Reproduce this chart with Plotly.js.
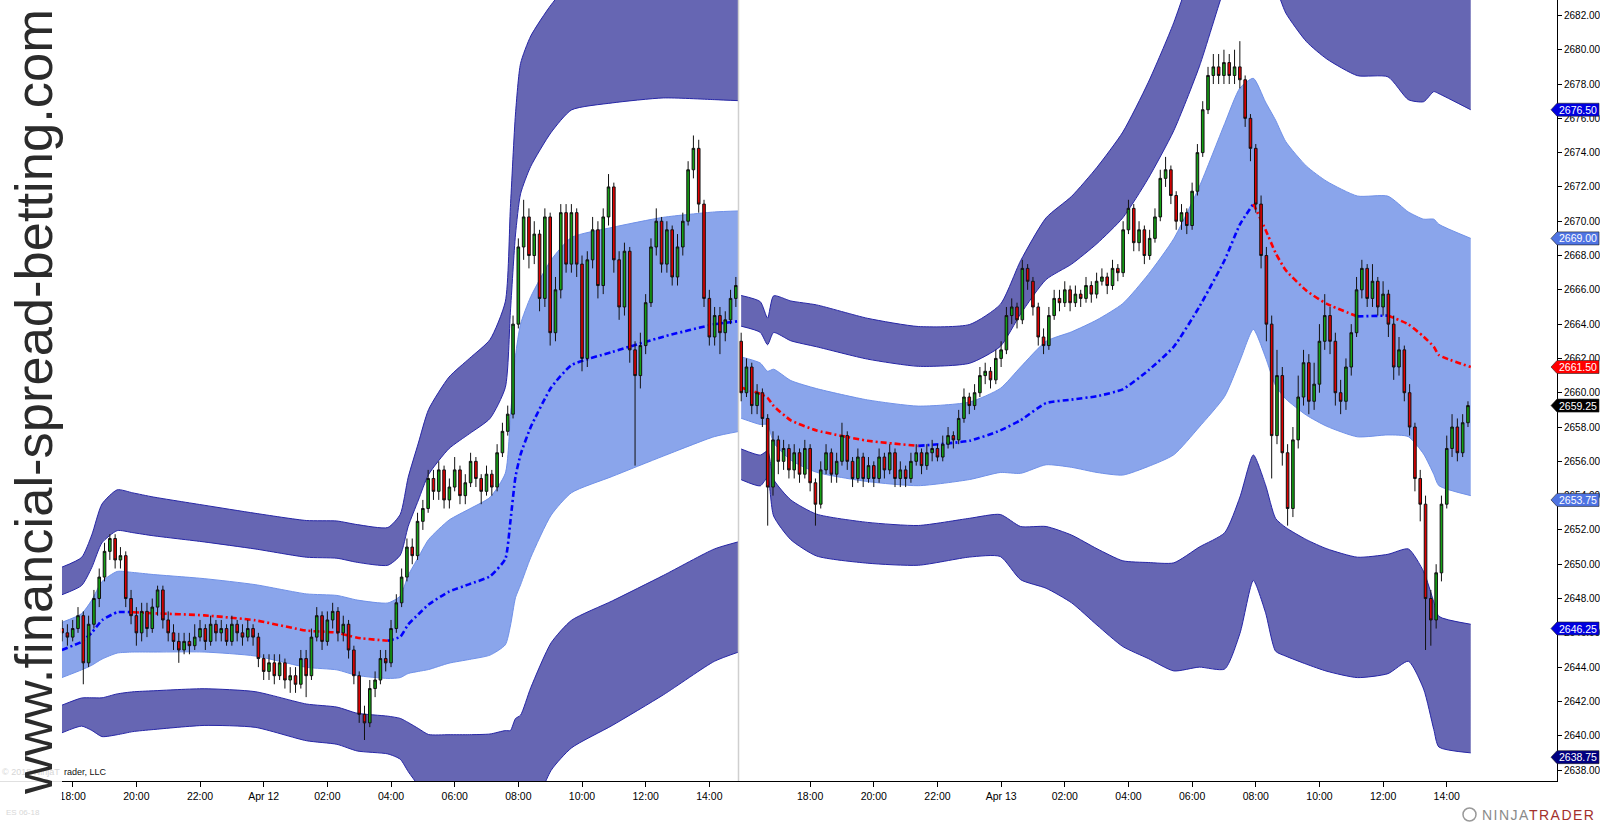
<!DOCTYPE html>
<html><head><meta charset="utf-8">
<script src="https://cdn.plot.ly/plotly-3.0.1.min.js"></script>
<style>html,body{margin:0;padding:0;background:#fff}#chart{width:1600px;height:822px}</style>
</head><body><div id="chart"></div>
<script>
// ---------- DATA (10-minute bars) ----------
const open = [
2646.25,2646,2645.75,2646.25,2647,2644.25,2646.5,2648,2649.25,2650.75,
2651.5,2650.25,2650.5,2648,2647,2646,2647.25,2646.25,2647.5,2648.5,
2646.75,2646,2645.5,2645,2645.5,2645.25,2645.75,2646.25,2645.5,2646.5,
2646,2646.25,2645.5,2646.5,2646,2645.75,2646.25,2645.75,2644.5,2643.75,
2644.25,2643.5,2644.25,2643.25,2643.5,2643,2644.5,2643.5,2645.75,2647,
2645.5,2646.75,2647.25,2646,2646.5,2645,2643.5,2641.25,2640.75,2642.75,
2643.25,2644.5,2644.25,2646.25,2647.75,2649.25,2651,2650.5,2652.5,2653.25,
2655,2654.25,2655.5,2653.75,2654.5,2655.5,2654,2654.75,2656,2655,
2654.25,2655.25,2654.5,2656.5,2657.75,2658.75,2664,2668.5,2670.25,2668,
2669.25,2665.5,2670.25,2663.5,2666,2670.5,2667.5,2670.5,2667.5,2662,
2667.75,2669.5,2666.25,2670.25,2672,2667.75,2665,2668.25,2662.5,2661,
2662.75,2665.25,2668.5,2670,2667.5,2669.5,2666.75,2668.5,2670,2673,
2674.25,2671,2665.5,2663.25,2664.5,2663.5,2664.25,2665.5,
2663,2660,2661.5,2659.25,2660,2658.5,2654.5,2657.25,2656,2656.75,
2655.5,2656.5,2655.25,2656.75,2654.75,2653.5,2655.5,2656.5,2655.25,2656,
2657.5,2656,2655,2656.25,2655,2655.75,2655,2656.25,2655.5,2656.5,
2655,2655.5,2655,2656,2656.5,2655.75,2656.5,2656.75,2656.25,2657,
2657.5,2657.25,2658.5,2659.75,2659.25,2660,2661,2661.25,2660.75,2662,
2662.5,2664.5,2665,2664.25,2667.25,2666.5,2665,2663.25,2662.75,2664.5,
2665.5,2665.25,2666,2665.25,2665.75,2665.5,2666.25,2665.75,2666.5,2666.75,
2666.25,2667.25,2667,2669.5,2670.75,2668.75,2669.5,2668,2669,2670.25,
2672.5,2673,2671.5,2670,2670.5,2669.75,2671.75,2674,2676.5,2678.5,
2679,2678.5,2679.25,2678.5,2679,2678.25,2676,2674.25,2671,2668,
2664,2657.5,2661,2656.5,2653.25,2657.25,2659.75,2661.75,2659.5,2660.5,
2663,2664.5,2663,2660,2659.5,2661.5,2663.5,2666,2667.25,2665.5,
2666.5,2665,2665.75,2664,2661.5,2662.5,2660,2658,2655,2653.5,
2648,2646.75,2649.5,2653.5,2656.75,2658,2656.5,2658.25];
const high = [
2646.75,2646.5,2646.75,2647.5,2647.25,2647,2648.5,2649.75,2651.25,2651.75,
2651.75,2651,2650.75,2648.5,2647.5,2647.75,2647.75,2648,2648.75,2648.75,
2647.25,2646.5,2646,2646,2646,2646.5,2646.75,2646.5,2647,2646.75,
2646.75,2646.5,2647,2646.75,2646.5,2646.75,2646.5,2646,2644.75,2644.75,
2644.75,2644.75,2644.5,2644,2644,2645,2645,2646.25,2647.5,2647.25,
2647.25,2647.75,2647.5,2647,2646.75,2645.25,2643.75,2641.75,2643.25,2643.75,
2645,2645,2646.75,2648.25,2649.75,2651.5,2651.5,2653,2653.75,2655.5,
2655.5,2656,2655.75,2655,2656.25,2655.75,2655.25,2656.5,2656.25,2655.25,
2655.75,2655.5,2657,2658.25,2659.25,2664.5,2669,2671.25,2670.75,2670,
2669.5,2670.75,2670.5,2666.75,2671,2671,2671,2670.75,2668,2668.25,
2670.25,2670,2670.75,2672.75,2672.25,2668.25,2668.75,2668.5,2663,2663.5,
2665.75,2669,2670.75,2670.25,2670,2669.75,2669.25,2670.5,2673.5,2675,
2674.75,2671.25,2666,2665,2665,2664.75,2666,2666.75,
2663.5,2662,2661.75,2660.5,2660.25,2658.75,2657.75,2657.5,2657.25,2657,
2657,2656.75,2657.25,2657,2655,2656,2657,2656.75,2656.5,2658.25,
2657.75,2656.25,2656.75,2656.5,2656.25,2656,2656.75,2656.5,2657,2656.75,
2656,2655.75,2656.5,2657,2656.75,2657,2657.25,2657,2657.5,2658,
2657.75,2659,2660.25,2660,2660.5,2661.5,2661.75,2661.5,2662.5,2663,
2665,2665.5,2665.25,2667.75,2667.5,2666.75,2665.25,2663.75,2665,2666,
2666,2666.5,2666.25,2666.25,2666,2666.75,2666.5,2667,2667.25,2667,
2667.75,2667.5,2670,2671.25,2671,2670,2669.75,2669.5,2670.75,2673,
2673.75,2673.25,2671.75,2671,2670.75,2672.25,2674.5,2677,2679,2679.75,
2679.75,2680,2679.75,2680,2680.5,2678.5,2676.25,2674.5,2671.5,2668.5,
2664.5,2662.5,2661.5,2657,2658,2661,2662.5,2662.25,2661.75,2664,
2665.75,2665,2663.5,2660.75,2662,2664,2666.75,2667.75,2667.5,2667.5,
2666.75,2666.5,2666,2664.5,2663.25,2662.75,2660.5,2658.25,2655.5,2654,
2648.5,2650,2654,2657.5,2658.75,2658.5,2658.75,2659.5];
const low = [
2645.5,2645.25,2645.5,2646,2643,2644,2646.25,2647.5,2649,2650.25,
2649.75,2649.75,2647.5,2646.5,2645.25,2645.5,2645.75,2646,2647,2646.25,
2645.5,2645,2644.25,2644.75,2644.75,2645,2645.5,2645,2645.25,2645.5,
2645.5,2645.25,2645.25,2645.5,2645.25,2645.5,2645.25,2644,2643.25,2643.25,
2643,2643.25,2642.75,2642.5,2642.5,2642.75,2642.25,2643.25,2645.5,2645,
2645.25,2646.25,2645.5,2645.5,2644.5,2643,2640.75,2639.75,2640.5,2642.25,
2643,2643.75,2644,2646,2647.5,2649,2650,2650.25,2652,2653,
2653.75,2653.75,2653.25,2653.25,2654.25,2653.5,2653.5,2654.5,2654.5,2653.5,
2654,2654,2654.25,2656.25,2657.5,2658.5,2663.75,2667.75,2667.25,2667.5,
2664.75,2665,2662.75,2663,2665.5,2667,2667,2666.75,2661.25,2661.5,
2667.25,2665.5,2665.75,2669.75,2667,2664.25,2664.5,2661.75,2655.75,2660.25,
2662.25,2665,2668,2667,2667,2666.25,2666.25,2668,2669.75,2672.5,
2670.5,2665,2662.75,2662.75,2662.25,2663,2664,2665,
2659.5,2659.75,2658.75,2658.75,2658,2652.25,2654,2655.25,2655.5,2655,
2655,2654.75,2655,2654.25,2652.25,2653.25,2655.25,2654.75,2654.75,2655.75,
2655.5,2654.5,2654.75,2654.5,2654.75,2654.5,2654.75,2655,2655.25,2654.5,
2654.5,2654.5,2654.75,2655.75,2655.25,2655.5,2656,2656,2656,2656.75,
2656.75,2657,2658.25,2658.75,2659,2659.75,2660.5,2660.25,2660.5,2661.5,
2662.25,2664,2663.75,2664,2666,2664.5,2662.75,2662.25,2662.5,2664.25,
2664.75,2665,2664.75,2665,2665,2665.25,2665.25,2665.5,2666.25,2665.75,
2666,2666.5,2666.75,2669.25,2668.25,2668.25,2667.5,2667.75,2668.75,2670,
2672,2671,2669.5,2669.5,2669.25,2669.5,2671.5,2673.75,2676.25,2678,
2678,2678,2678,2678,2677.75,2675.5,2673.5,2670.5,2667.25,2663,
2655,2657,2655.75,2652.25,2652.75,2656.75,2659.25,2658.75,2659,2660,
2662.5,2662.25,2659.25,2658.75,2659,2661,2663.25,2665.5,2665,2665,
2664.5,2664.5,2663.25,2660.75,2661,2659.5,2657.5,2654.25,2652.5,2645,
2645.25,2646.25,2649,2653.25,2656.25,2656,2656.25,2658];
const close = [
2646,2645.75,2646.25,2647,2644.25,2646.5,2648,2649.25,2650.75,2651.5,
2650.25,2650.5,2648,2647,2646,2647.25,2646.25,2647.5,2648.5,2646.75,
2646,2645.5,2645,2645.5,2645.25,2645.75,2646.25,2645.5,2646.5,2646,
2646.25,2645.5,2646.5,2646,2645.75,2646.25,2645.75,2644.5,2643.75,2644.25,
2643.5,2644.25,2643.25,2643.5,2643,2644.5,2643.5,2645.75,2647,2645.5,
2646.75,2647.25,2646,2646.5,2645,2643.5,2641.25,2640.75,2642.75,2643.25,
2644.5,2644.25,2646.25,2647.75,2649.25,2651,2650.5,2652.5,2653.25,2655,
2654.25,2655.5,2653.75,2654.5,2655.5,2654,2654.75,2656,2655,2654.25,
2655.25,2654.5,2656.5,2657.75,2658.75,2664,2668.5,2670.25,2668,2669.25,
2665.5,2670.25,2663.5,2666,2670.5,2667.5,2670.5,2667.5,2662,2667.75,
2669.5,2666.25,2670.25,2672,2667.75,2665,2668.25,2662.5,2661,2662.75,
2665.25,2668.5,2670,2667.5,2669.5,2666.75,2668.5,2670,2673,2674.25,
2671,2665.5,2663.25,2664.5,2663.5,2664.25,2665.5,2666.25,
2660,2661.5,2659.25,2660,2658.5,2654.5,2657.25,2656,2656.75,2655.5,
2656.5,2655.25,2656.75,2654.75,2653.5,2655.5,2656.5,2655.25,2656,2657.5,
2656,2655,2656.25,2655,2655.75,2655,2656.25,2655.5,2656.5,2655,
2655.5,2655,2656,2656.5,2655.75,2656.5,2656.75,2656.25,2657,2657.5,
2657.25,2658.5,2659.75,2659.25,2660,2661,2661.25,2660.75,2662,2662.5,
2664.5,2665,2664.25,2667.25,2666.5,2665,2663.25,2662.75,2664.5,2665.5,
2665.25,2666,2665.25,2665.75,2665.5,2666.25,2665.75,2666.5,2666.75,2666.25,
2667.25,2667,2669.5,2670.75,2668.75,2669.5,2668,2669,2670.25,2672.5,
2673,2671.5,2670,2670.5,2669.75,2671.75,2674,2676.5,2678.5,2679,
2678.5,2679.25,2678.5,2679,2678.25,2676,2674.25,2671,2668,2664,
2657.5,2661,2656.5,2653.25,2657.25,2659.75,2661.75,2659.5,2660.5,2663,
2664.5,2663,2660,2659.5,2661.5,2663.5,2666,2667.25,2665.5,2666.5,
2665,2665.75,2664,2661.5,2662.5,2660,2658,2655,2653.5,2648,
2646.75,2649.5,2653.5,2656.75,2658,2656.5,2658.25,2659.25];

// VWAP and standard deviation, sampled along each session (hours on the chart's bar clock)
const sess1Hour = [-0.34,0.28,0.6,0.92,1.4,1.89,2.53,4.13,5.73,7.34,8.3,8.94,9.9,10.29,10.54,10.86,11.18,11.82,12.47,13.11,13.59,13.75,13.91,14.07,14.39,15.03,15.67,16.95,18.56,20.16,20.92];
const sess1Vwap = [2645.0,2645.48,2646.01,2646.73,2647.2,2647.2,2647.14,2647.02,2646.73,2646.13,2646.01,2645.71,2645.54,2645.77,2646.49,2647.08,2647.65,2648.4,2648.84,2649.3,2650.3,2652.5,2655.1,2656.4,2658.0,2660.3,2661.61,2662.38,2663.27,2663.99,2664.17];
const sess1Sd = [1.61,1.64,1.9,2.26,2.38,2.32,2.26,2.14,2.08,2.14,2.17,2.2,2.2,2.38,2.86,3.33,3.79,4.17,4.39,4.6,5.0,6.1,7.05,7.6,7.6,7.44,7.44,7.26,6.96,6.55,6.43];
const sess2Hour = [21.0,21.6,21.83,22.02,22.56,23.37,24.97,26.57,28.18,29.14,29.78,30.58,31.38,32.18,32.99,33.79,34.59,35.39,36.19,36.67,37.09,37.47,37.79,38.11,38.76,39.4,40.36,41.32,41.96,42.44,42.76,42.92,43.92];
const sess2Vwap = [2660.3,2659.94,2659.7,2659.23,2658.39,2657.8,2657.2,2656.9,2657.2,2657.8,2658.4,2659.4,2659.6,2659.8,2660.2,2661.3,2662.68,2665.0,2667.74,2669.82,2671.01,2669.52,2668.15,2667.14,2665.95,2665.18,2664.45,2664.5,2663.99,2663.27,2662.68,2662.2,2661.5];
const sess2Sd = [1.79,1.79,1.55,2.14,2.32,2.44,2.38,2.32,2.26,2.45,3.1,3.6,3.95,4.45,5.0,5.6,6.3,7.0,7.95,7.95,7.32,7.44,7.74,7.5,7.26,7.14,7.02,6.96,6.55,6.85,7.44,7.62,7.5];

// axis labels
const sess1TickText = ['18:00','20:00','22:00','Apr 12','02:00','04:00','06:00','08:00','10:00','12:00','14:00'];
const sess2TickText = ['18:00','20:00','22:00','Apr 13','02:00','04:00','06:00','08:00','10:00','12:00','14:00'];
// right-hand price markers
const markerPrices = [2676.5,2669.0,2661.5,2659.25,2653.75,2646.25,2638.75];
const markerColors = ['#0000e0','#4f74e3','#ff0000','#000000','#4f74e3','#0000e0','#000080'];

// ---------- LAYOUT CONSTANTS ----------
const FIRST_BAR = -1/3, BAR = 1/6;          // bar clock (hours)
const SESSION2_18H = 21 + 13/6;              // 18:00 of session 2 on the bar clock
const XR = [-2.284, 46.63], YR = [2637.36, 2682.9];
const PW = 1557, PH = 781;
const FONT = 'Liberation Sans, Arial, sans-serif';

const barX = close.map((_, i) => FIRST_BAR + i * BAR);

const traces = [];
const base = {type:'scatter', mode:'lines', hoverinfo:'skip', showlegend:false};
const sp = {shape:'spline', smoothing:0.6};
const darkFill = '#6666b3', darkEdge = '#2626a6', lightFill = '#8aa5eb', lightEdge = '#6f90e8';

function addBands(hours, vwap, sd) {
  const band = k => vwap.map((v, i) => v + k * sd[i]);
  traces.push({...base, x:hours, y:band(2),  line:{color:darkEdge, width:1, ...sp}});
  traces.push({...base, x:hours, y:band(3),  fill:'tonexty', fillcolor:darkFill, line:{color:darkEdge, width:1, ...sp}});
  traces.push({...base, x:hours, y:band(-3), line:{color:darkEdge, width:1, ...sp}});
  traces.push({...base, x:hours, y:band(-2), fill:'tonexty', fillcolor:darkFill, line:{color:darkEdge, width:1, ...sp}});
  traces.push({...base, x:hours, y:band(-1), line:{color:lightEdge, width:1, ...sp}});
  traces.push({...base, x:hours, y:band(1),  fill:'tonexty', fillcolor:lightFill, line:{color:lightEdge, width:1, ...sp}});
}
function addVwap(hours, vwap) {
  let start = 0;
  for (let i = 1; i < vwap.length; i++) {
    const dir = vwap[i] >= vwap[i-1] ? 1 : -1;
    const nextDir = i + 1 < vwap.length ? (vwap[i+1] >= vwap[i] ? 1 : -1) : null;
    if (nextDir !== dir) {
      traces.push({...base, x:hours.slice(start, i+1), y:vwap.slice(start, i+1),
        line:{color: dir > 0 ? '#0000ff' : '#ff0000', width:2.6, dash:'6px,3px,2px,3px', shape:'spline', smoothing:0.5}});
      start = i;
    }
  }
}
addBands(sess1Hour, sess1Vwap, sess1Sd);
addBands(sess2Hour, sess2Vwap, sess2Sd);
addVwap(sess1Hour, sess1Vwap);
addVwap(sess2Hour, sess2Vwap);

// candles live on an overlaid (hidden) axis pair so they are painted above the band fills
traces.push({
  type:'candlestick', x:barX, open, high, low, close, hoverinfo:'skip', showlegend:false,
  xaxis:'x2', yaxis:'y2', whiskerwidth:0,
  increasing:{fillcolor:'#14a014', line:{color:'#111', width:1}},
  decreasing:{fillcolor:'#e00000', line:{color:'#111', width:1}}
});

// ticks
const tickvals = [], ticktext = [];
sess1TickText.forEach((t, i) => { tickvals.push(i * 2); ticktext.push(t); });
sess2TickText.forEach((t, i) => { tickvals.push(SESSION2_18H + i * 2); ticktext.push(t); });
const ytv = [], ytt = [];
for (let p = 2638; p <= 2682; p += 2) { ytv.push(p); ytt.push(p.toFixed(2)); }

const py = p => (p - YR[0]) / (YR[1] - YR[0]);
const pxX = x => x / PW, pxY = y => 1 - y / PH;

const shapes = [
  {type:'line', xref:'x', yref:'paper', x0:20.9167, x1:20.9167, y0:0, y1:1, line:{color:'#cfcfcf', width:1.5}, layer:'above'},
  {type:'rect', xref:'paper', yref:'paper', x0:0, x1:pxX(62), y0:pxY(822), y1:1, fillcolor:'rgba(255,255,255,0.88)', line:{width:0}, layer:'above'},
  {type:'circle', xref:'paper', yref:'paper', x0:pxX(1463), x1:pxX(1476), y0:pxY(821), y1:pxY(808), line:{color:'#999', width:1.5}, layer:'above'}
];
const annotations = [];
markerPrices.forEach((p, i) => {
  const h = 6.5 / PH, y = py(p);
  shapes.push({type:'path', xref:'paper', yref:'paper', layer:'above',
    path:`M ${pxX(1551)} ${y} L ${pxX(1557)} ${y+h} L ${pxX(1599)} ${y+h} L ${pxX(1599)} ${y-h} L ${pxX(1557)} ${y-h} Z`,
    fillcolor:markerColors[i], line:{color:'#222', width:0.6}});
  annotations.push({xref:'paper', yref:'paper', x:pxX(1578), y:y, text:p.toFixed(2), showarrow:false,
    xanchor:'center', yanchor:'middle', font:{family:FONT, size:10.5, color:'#fff'}});
});
annotations.push(
  {xref:'paper', yref:'paper', x:pxX(62), y:pxY(772), text:'© 2018 NinjaT', showarrow:false, xanchor:'right', yanchor:'middle', font:{family:FONT, size:9, color:'#d6d6d6'}},
  {xref:'paper', yref:'paper', x:pxX(62), y:pxY(772), text:'rader, LLC', showarrow:false, xanchor:'left', yanchor:'middle', font:{family:FONT, size:9, color:'#111'}},
  {xref:'paper', yref:'paper', x:pxX(4), y:pxY(812), text:'ES 06-18', showarrow:false, xanchor:'left', yanchor:'middle', font:{family:FONT, size:8, color:'#d8d8d8'}},
  {xref:'paper', yref:'paper', x:pxX(1597), y:pxY(815), showarrow:false, xanchor:'right', yanchor:'middle',
   text:'<span style="color:#8a8a8a;letter-spacing:1.5px">NINJA</span><span style="color:#a3302c;letter-spacing:1.5px">TRADER</span>',
   font:{family:FONT, size:14}},
  {xref:'paper', yref:'paper', x:pxX(33), y:pxY(402), text:'www.financial-spread-betting.com', textangle:-90, showarrow:false,
   xanchor:'center', yanchor:'middle', font:{family:FONT, size:52.5, color:'#2b2b2b'}}
);

const layout = {
  width:1600, height:822, margin:{l:0, r:43, t:0, b:41, pad:0},
  paper_bgcolor:'#fff', plot_bgcolor:'#fff', showlegend:false,
  xaxis:{range:XR, tickvals, ticktext, ticks:'outside', ticklen:5, tickcolor:'#000', showgrid:false, zeroline:false,
         showline:true, linecolor:'#000', linewidth:1, rangeslider:{visible:false}, fixedrange:true,
         tickfont:{family:FONT, size:10.5, color:'#000'}, automargin:false},
  yaxis:{range:YR, side:'right', tickvals:ytv, ticktext:ytt, ticks:'outside', ticklen:4, tickcolor:'#000', showgrid:false,
         zeroline:false, showline:true, linecolor:'#000', linewidth:1, fixedrange:true,
         tickfont:{family:FONT, size:10, color:'#000'}, automargin:false},
  xaxis2:{range:XR, overlaying:'x', visible:false, showgrid:false, zeroline:false, rangeslider:{visible:false}, fixedrange:true},
  yaxis2:{range:YR, overlaying:'y', visible:false, showgrid:false, zeroline:false, fixedrange:true},
  shapes, annotations
};
Plotly.newPlot('chart', traces, layout, {displayModeBar:false, staticPlot:true});
</script></body></html>
